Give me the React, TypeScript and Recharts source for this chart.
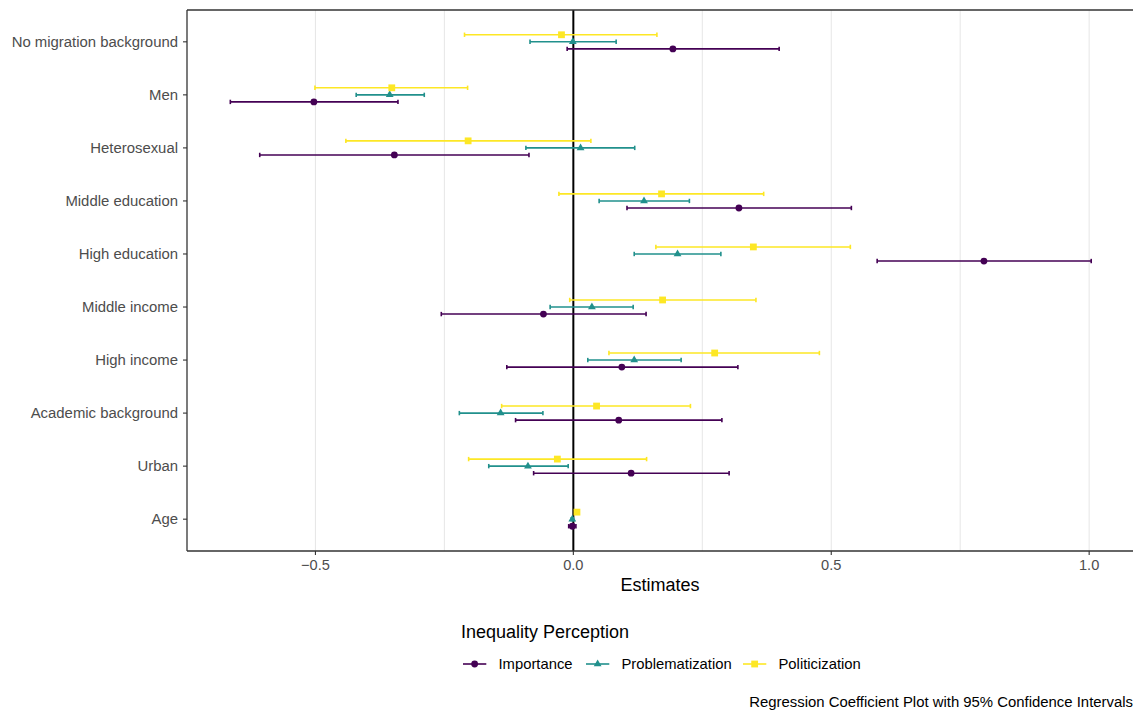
import React from 'react';
import { ScatterChart, Scatter, XAxis, YAxis, ErrorBar, ReferenceLine } from 'recharts';

const FONT = '"Liberation Sans", Arial, Helvetica, sans-serif';

// rows from top to bottom
const TERMS = [
  'No migration background',
  'Men',
  'Heterosexual',
  'Middle education',
  'High education',
  'Middle income',
  'High income',
  'Academic background',
  'Urban',
  'Age',
];

const IMPORTANCE_EST = [0.193, -0.503, -0.347, 0.321, 0.796, -0.058, 0.094, 0.088, 0.112, -0.002];
const IMPORTANCE_LO = [-0.012, -0.665, -0.608, 0.104, 0.589, -0.256, -0.129, -0.112, -0.077, -0.009];
const IMPORTANCE_HI = [0.399, -0.34, -0.086, 0.539, 1.004, 0.141, 0.319, 0.288, 0.302, 0.005];

const PROBLEM_EST = [-0.001, -0.356, 0.014, 0.137, 0.202, 0.036, 0.118, -0.141, -0.088, -0.002];
const PROBLEM_LO = [-0.084, -0.421, -0.092, 0.05, 0.118, -0.045, 0.028, -0.221, -0.164, -0.004];
const PROBLEM_HI = [0.083, -0.289, 0.119, 0.225, 0.286, 0.116, 0.209, -0.059, -0.01, 0.0];

const POLITIC_EST = [-0.023, -0.352, -0.204, 0.171, 0.349, 0.173, 0.274, 0.045, -0.031, 0.007];
const POLITIC_LO = [-0.211, -0.501, -0.441, -0.028, 0.16, -0.007, 0.069, -0.139, -0.203, 0.004];
const POLITIC_HI = [0.162, -0.205, 0.034, 0.369, 0.537, 0.354, 0.477, 0.227, 0.142, 0.01];

const X_TICKS = [-0.5, 0, 0.5, 1];
const GRID_LINES = [-0.5, -0.25, 0.25, 0.5, 0.75, 1];
const ROW_TICKS = TERMS.map((_, i) => TERMS.length - i);

const PURPLE = '#440154';
const TEAL = '#21908C';
const YELLOW = '#FDE725';
const DODGE = 0.133;

const toRows = (est: number[], lo: number[], hi: number[], shift: number) =>
  est.map((e, i) => ({
    term: TERMS[i],
    y: TERMS.length - i + shift,
    est: e,
    err: [e - lo[i], hi[i] - e],
  }));

const importanceRows = toRows(IMPORTANCE_EST, IMPORTANCE_LO, IMPORTANCE_HI, -DODGE);
const problemRows = toRows(PROBLEM_EST, PROBLEM_LO, PROBLEM_HI, 0);
const politicRows = toRows(POLITIC_EST, POLITIC_LO, POLITIC_HI, DODGE);

const Dot = ({ cx, cy, fill }: any) => <circle cx={cx} cy={cy} r={3.4} fill={fill} />;
const Tri = ({ cx, cy, fill }: any) => {
  const s = 7.8;
  const h = s * 0.866;
  return (
    <polygon
      points={`${cx},${cy - (h * 2) / 3} ${cx - s / 2},${cy + h / 3} ${cx + s / 2},${cy + h / 3}`}
      fill={fill}
    />
  );
};
const Sq = ({ cx, cy, fill }: any) => <rect x={cx - 3.4} y={cy - 3.4} width={6.8} height={6.8} fill={fill} />;

const LEGEND = [
  { name: 'Importance', color: PURPLE, Shape: Dot, x: 463 },
  { name: 'Problematization', color: TEAL, Shape: Tri, x: 586 },
  { name: 'Politicization', color: YELLOW, Shape: Sq, x: 743 },
];

const fmt = (v: number) => v.toFixed(1).replace('-', '\u2212');

export default function App() {
  return (
    <div style={{ position: 'absolute', left: 0, top: 0, width: 1133, height: 711, background: '#fff', fontFamily: FONT }}>
      <ScatterChart width={1133} height={711} margin={{ top: 10, right: 0, bottom: 0, left: 0 }}>
        {GRID_LINES.map((g) => (
          <ReferenceLine key={g} x={g} stroke="#e6e6e6" strokeWidth={1} />
        ))}
        <ReferenceLine x={0} stroke="#000" strokeWidth={2} />
        <ReferenceLine y={10.6} stroke="#333" strokeWidth={1.3} />
        <XAxis
          type="number"
          dataKey="est"
          domain={[-0.749, 1.085]}
          allowDataOverflow
          ticks={X_TICKS}
          tickFormatter={fmt}
          height={160}
          tickSize={4}
          tickMargin={4.5}
          axisLine={{ stroke: '#333', strokeWidth: 1.3 }}
          tickLine={{ stroke: '#333', strokeWidth: 1.1 }}
          tick={{ fill: '#4d4d4d', fontSize: 14.6, fontFamily: FONT }}
          label={{ value: 'Estimates', position: 'insideTop', offset: 27, fill: '#000', fontSize: 18, fontFamily: FONT }}
        />
        <YAxis
          type="number"
          dataKey="y"
          domain={[0.4, 10.6]}
          allowDataOverflow
          ticks={ROW_TICKS}
          interval={0}
          tickFormatter={(v: number) => TERMS[TERMS.length - v]}
          width={187}
          tickSize={4}
          tickMargin={5}
          axisLine={{ stroke: '#333', strokeWidth: 1.3 }}
          tickLine={{ stroke: '#333', strokeWidth: 1.1 }}
          tick={{ fill: '#4d4d4d', fontSize: 14.9, fontFamily: FONT }}
        />
        <Scatter data={importanceRows} fill={PURPLE} shape={<Dot />} isAnimationActive={false}>
          <ErrorBar dataKey="err" direction="x" width={2.2} stroke={PURPLE} strokeWidth={1.6} />
        </Scatter>
        <Scatter data={problemRows} fill={TEAL} shape={<Tri />} isAnimationActive={false}>
          <ErrorBar dataKey="err" direction="x" width={2.2} stroke={TEAL} strokeWidth={1.6} />
        </Scatter>
        <Scatter data={politicRows} fill={YELLOW} shape={<Sq />} isAnimationActive={false}>
          <ErrorBar dataKey="err" direction="x" width={2.2} stroke={YELLOW} strokeWidth={1.6} />
        </Scatter>
      </ScatterChart>
      <svg
        width={1133}
        height={711}
        style={{ position: 'absolute', left: 0, top: 0, pointerEvents: 'none' }}
        fontFamily={FONT}
      >
        <text x={461} y={638} fontSize={18} fill="#000">
          Inequality Perception
        </text>
        {LEGEND.map(({ name, color, Shape, x }) => (
          <g key={name}>
            <line x1={x} x2={x + 23.3} y1={664} y2={664} stroke={color} strokeWidth={1.6} />
            <Shape cx={x + 11.65} cy={664} fill={color} />
            <text x={x + 35.5} y={669} fontSize={14.8} fill="#000">
              {name}
            </text>
          </g>
        ))}
        <text x={1133} y={707} fontSize={14.9} fill="#000" textAnchor="end">
          Regression Coefficient Plot with 95% Confidence Intervals
        </text>
      </svg>
    </div>
  );
}
